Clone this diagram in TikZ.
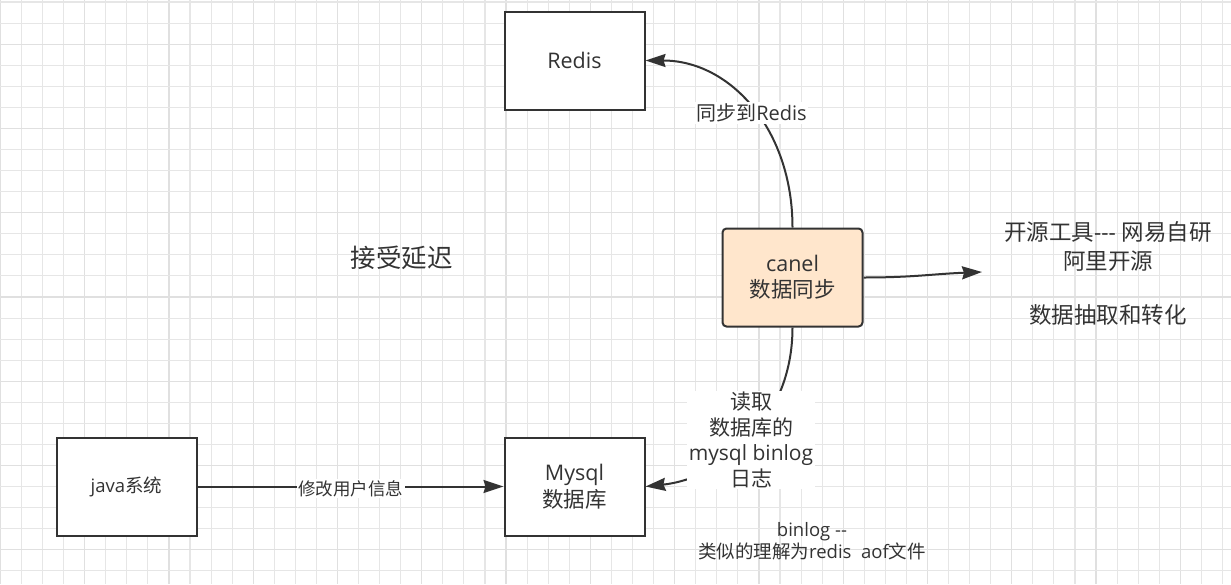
\documentclass[tikz,border=0pt]{standalone}
\usepackage{fontspec}
\setmainfont{Open Sans}
\newfontfamily\cjk{Noto Sans CJK SC}
\usetikzlibrary{arrows.meta}
\definecolor{ink}{HTML}{333333}
\definecolor{peach}{HTML}{FFE6CC}
\definecolor{gridminor}{HTML}{E6E6E6}
\definecolor{gridmajor}{HTML}{E0E0E0}
\begin{document}
\begin{tikzpicture}[x=1pt,y=-1pt,
  box/.style={draw=ink, line width=2pt, fill=white, minimum width=140pt, minimum height=98pt,
    inner sep=0pt, align=center, text=ink, font=\fontsize{21.5}{26}\selectfont},
  canelbox/.style={box, fill=peach, rounded corners=4pt},
  conn/.style={draw=ink, line width=2pt, -{Stealth[length=20pt,width=13pt,inset=2pt]}},
  lbl/.style={fill=white, text=ink, inner sep=1.5pt, align=center},
  note/.style={text=ink, align=center, inner sep=0pt}]
\useasboundingbox (0,0) rectangle (1231,584);
% grid
\foreach \k in {0,...,58}{
  \pgfmathsetmacro\xx{0.4+21.07*\k}
  \pgfmathtruncatemacro\m{mod(\k,4)}
  \ifnum\m=0 \draw[gridmajor, line width=1.2pt] (\xx,0) -- (\xx,584);
  \else \draw[gridminor, line width=1.1pt] (\xx,0) -- (\xx,584); \fi
}
\foreach \k in {0,...,27}{
  \pgfmathsetmacro\yy{2+21.07*\k}
  \pgfmathtruncatemacro\m{mod(\k,4)}
  \ifnum\m=2 \draw[gridmajor, line width=1.2pt] (0,\yy) -- (1231,\yy);
  \else \draw[gridminor, line width=1.1pt] (0,\yy) -- (1231,\yy); \fi
}
% nodes
\node[box] (redis) at (574.5,60.5) {Redis};
\node[canelbox] (canel) at (792.5,277.5) {canel\\{\cjk 数据同步}};
\node[box, font=\fontsize{18.5}{22}\selectfont] (java) at (126.5,486.5) {java{\cjk 系统}};
\node[box, font=\fontsize{21.5}{27}\selectfont] (mysql) at (574.5,486.5) {Mysql\\{\cjk 数据库}};
\coordinate (rt) at (982,272);
% connectors
\draw[conn] (canel.north) .. controls +(0,-98) and +(85,0) .. (redis.east);
\node[lbl, font=\fontsize{20}{24}\selectfont] (syncl) at (751.5,113) {{\cjk 同步到}Redis};
\draw[conn] (canel.south) .. controls +(0,95) and +(75,-8) .. (mysql.east);
\node[lbl, font=\fontsize{21}{25.5}\selectfont] (readl) at (751,440)
  {{\cjk 读取}\\{\cjk 数据库的}\\mysql binlog\\{\cjk 日志}};
\draw[conn] (java.east) -- node[lbl, midway, yshift=-2pt, font=\fontsize{17.5}{21}\selectfont] (modl) {\cjk 修改用户信息} (mysql.west);
\draw[conn] (canel.east) .. controls +(50,0) and +(-50,2) .. (rt);
% free texts
\node[note, font=\fontsize{25.5}{30}\selectfont] (delay) at (401.7,258) {\cjk 接受延迟};
\node[note, font=\fontsize{22.5}{29}\selectfont] (tool) at (1108,246.5)
  {{\cjk 开源工具}{-}{-}{-} {\cjk 网易自研}\\{\cjk 阿里开源}};
\node[note, font=\fontsize{22.5}{29}\selectfont] (extract) at (1108,315) {\cjk 数据抽取和转化};
\node[note, font=\fontsize{18.5}{22}\selectfont] (binlog) at (812,541)
  {binlog {-}{-}\\{\cjk 类似的理解为}redis\ \ aof{\cjk 文件}};
\end{tikzpicture}
\end{document}
